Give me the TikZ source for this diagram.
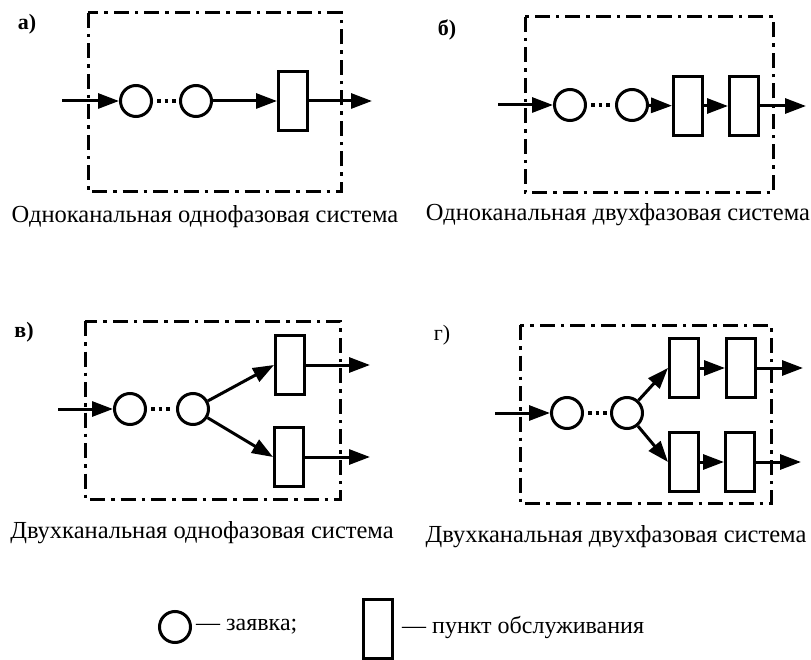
\documentclass[tikz,border=0pt]{standalone}
\usepackage{fontspec}
\setmainfont{Liberation Serif}
\usetikzlibrary{arrows.meta}

\begin{document}
\begin{tikzpicture}[x=1pt,y=-1pt,
  zayavka/.style={circle,draw,line width=3pt,minimum size=31pt,inner sep=0pt},
  punkt/.style={rectangle,draw,line width=3pt,minimum width=29pt,minimum height=59pt,inner sep=0pt},
  potok/.style={line width=3pt,-{Triangle[length=21pt,width=15pt]}},
  ochered/.style={line width=3.6pt,dash pattern=on 3.6pt off 4pt,shorten <=4pt,shorten >=3pt},
  ramka/.style={line width=3pt,dash pattern=on 15pt off 6pt on 3.5pt off 6pt},
  podpis/.style={font=\fontsize{24.5}{26}\selectfont},
  bukva/.style={font=\fontsize{22}{24}\selectfont\bfseries},
  legenda/.style={font=\fontsize{24}{26}\selectfont,anchor=west,inner sep=0pt}]
  \useasboundingbox (0,0) rectangle (811,660);

  % a) одноканальная однофазовая
  \draw[ramka] (88,13) rectangle (341,192);
  \node[bukva] (la) at (27,24) {а)};
  \coordinate (a-in) at (62,101);
  \node[zayavka] (a1) at (136,101) {};
  \node[zayavka] (a2) at (196,101) {};
  \node[punkt] (ar) at (293,101) {};
  \coordinate (a-out) at (372,101);
  \draw[potok] (a-in) -- (a1);
  \draw[ochered] (a1) -- (a2);
  \draw[potok] (a2) -- (ar);
  \draw[potok] (ar) -- (a-out);
  \node[podpis] (ca) at (205,217) {Одноканальная однофазовая система};

  % б) одноканальная двухфазовая
  \draw[ramka] (525,17) rectangle (773,193);
  \node[bukva] (lb) at (447,30) {б)};
  \coordinate (b-in) at (498,105);
  \node[zayavka] (b1) at (570,105) {};
  \node[zayavka] (b2) at (632,105) {};
  \node[punkt] (br1) at (688,106) {};
  \node[punkt] (br2) at (744,106) {};
  \coordinate (b-out) at (806,106);
  \draw[potok] (b-in) -- (b1);
  \draw[ochered] (b1) -- (b2);
  \draw[potok] (b2) -- (br1);
  \draw[potok] (br1) -- (br2);
  \draw[potok] (br2) -- (b-out);
  \node[podpis] (cb) at (618,215) {Одноканальная двухфазовая система};

  % в) двухканальная однофазовая
  \draw[ramka] (85,321) rectangle (340,499);
  \node[bukva] (lc) at (24,332) {в)};
  \coordinate (c-in) at (58,409);
  \node[zayavka] (c1) at (130,409) {};
  \node[zayavka] (c2) at (193,409) {};
  \node[punkt] (cr1) at (290,365) {};
  \node[punkt] (cr2) at (289,457) {};
  \coordinate (c-out1) at (370,365);
  \coordinate (c-out2) at (370,457);
  \draw[potok] (c-in) -- (c1);
  \draw[ochered] (c1) -- (c2);
  \draw[potok] (c2) -- (cr1.west);
  \draw[potok] (c2) -- (cr2.west);
  \draw[potok] (cr1) -- (c-out1);
  \draw[potok] (cr2) -- (c-out2);
  \node[podpis] (cc) at (202,533) {Двухканальная однофазовая система};

  % г) двухканальная двухфазовая
  \draw[ramka] (520,325) rectangle (771,503);
  \node[bukva,font=\fontsize{22}{24}\selectfont] (ld) at (442,335) {г)};
  \coordinate (d-in) at (495,413);
  \node[zayavka] (d1) at (567,413) {};
  \node[zayavka] (d2) at (627,413) {};
  \node[punkt] (dr1) at (684,368) {};
  \node[punkt] (dr2) at (741,368) {};
  \node[punkt] (dr3) at (684,462) {};
  \node[punkt] (dr4) at (740,462) {};
  \coordinate (d-out1) at (803,368);
  \coordinate (d-out2) at (801,462);
  \draw[potok] (d-in) -- (d1);
  \draw[ochered] (d1) -- (d2);
  \draw[potok] (d2) -- (dr1.west);
  \draw[potok] (d2) -- (dr3.west);
  \draw[potok] (dr1) -- (dr2);
  \draw[potok] (dr3) -- (dr4);
  \draw[potok] (dr2) -- (d-out1);
  \draw[potok] (dr4) -- (d-out2);
  \node[podpis] (cd) at (616,537) {Двухканальная двухфазовая система};

  % обозначения
  \node[zayavka] (lz) at (175,627) {};
  \node[legenda] (tz) at (196,627) {— заявка;};
  \node[punkt] (lp) at (378,629) {};
  \node[legenda] (tp) at (402,627) {— пункт обслуживания};
\end{tikzpicture}
\end{document}
